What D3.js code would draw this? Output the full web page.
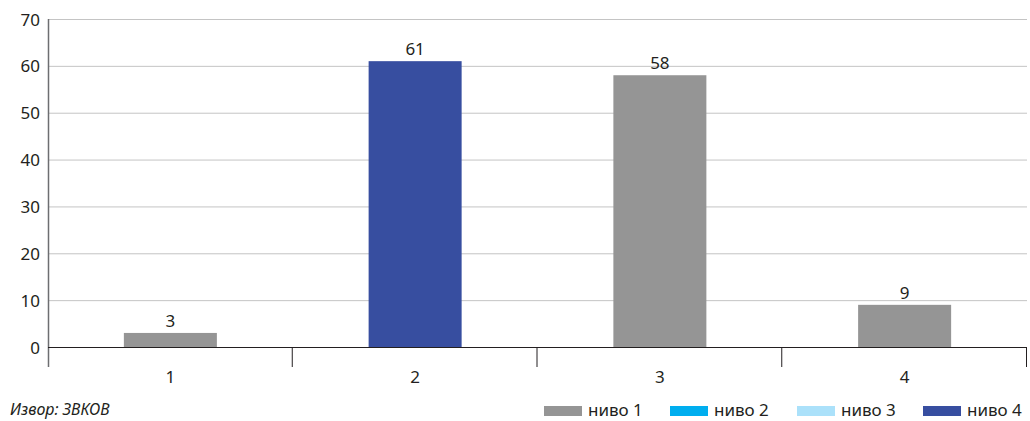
<!DOCTYPE html>
<html><head><meta charset="utf-8">
<script src="https://cdn.jsdelivr.net/npm/d3@7"></script>
<style>body{margin:0;background:#fff}svg{display:block}text{font-family:"Noto Sans",sans-serif;fill:#231f20}</style>
</head><body><svg id="c" width="1030" height="421"></svg>
<script>
const categories = ["1","2","3","4"];
const values = [3,61,58,9];
const barLevel = ["ниво 1","ниво 4","ниво 1","ниво 1"];
const legendNames = ["ниво 1","ниво 2","ниво 3","ниво 4"];
const legendColors = ["#959595","#00aeef","#abe1fa","#374ea0"];
const yTicks = [0,10,20,30,40,50,60,70];
const source = "Извор: ЗВКОВ";

const svg = d3.select("#c");
const m = {l:48, r:1027, t:19, b:347};
const x = d3.scaleBand().domain(categories).range([m.l, m.r]).paddingInner(0).paddingOuter(0);
const y = d3.scaleLinear().domain([0,70]).range([m.b, m.t]);
const color = d3.scaleOrdinal().domain(legendNames).range(legendColors);

// gridlines
svg.append("g").selectAll("line").data(yTicks.filter(d=>d>0)).join("line")
  .attr("x1", m.l).attr("x2", m.r).attr("y1", d=>y(d)+0.5).attr("y2", d=>y(d)+0.5)
  .attr("stroke", "#c4c4c4").attr("stroke-width", 1);

// y axis
const ya = svg.append("g").attr("transform", `translate(${m.l},0)`)
  .call(d3.axisLeft(y).tickValues(yTicks).tickSize(0).tickPadding(8));
ya.select(".domain").remove();
ya.attr("font-size", null).attr("font-family", null);
ya.selectAll("text").attr("font-size", 17).attr("fill", "#231f20").attr("dy","0.36em");
svg.append("line").attr("x1", m.l+0.5).attr("x2", m.l+0.5).attr("y1", m.t).attr("y2", m.b+20)
  .attr("stroke", "#6d6e71").attr("stroke-width", 1.5);

// bars
const bw = x.bandwidth()*0.38;
svg.append("g").selectAll("rect").data(values).join("rect")
  .attr("x", (d,i)=>x(categories[i]) + x.bandwidth()/2 - bw/2)
  .attr("width", bw)
  .attr("y", d=>y(d)).attr("height", d=>y(0)-y(d))
  .attr("fill", (d,i)=>color(barLevel[i]));

// value labels
svg.append("g").selectAll("text").data(values).join("text")
  .attr("x", (d,i)=>x(categories[i]) + x.bandwidth()/2)
  .attr("y", d=>y(d)-6).attr("text-anchor","middle").attr("font-size",17).text(d=>d);

// x axis
svg.append("line").attr("x1", m.l).attr("x2", m.r).attr("y1", m.b+0.5).attr("y2", m.b+0.5)
  .attr("stroke", "#231f20").attr("stroke-width", 1.2);
const boundaries = categories.map(c=>x(c)).concat([m.r]);
svg.append("g").selectAll("line").data(boundaries.slice(1)).join("line")
  .attr("x1", d=>d-0.5).attr("x2", d=>d-0.5).attr("y1", m.b).attr("y2", m.b+20)
  .attr("stroke", "#231f20").attr("stroke-width", 1);
svg.append("g").selectAll("text").data(categories).join("text")
  .attr("x", d=>x(d)+x.bandwidth()/2).attr("y", 383).attr("text-anchor","middle")
  .attr("font-size",17).text(d=>d);

// source
svg.append("text").attr("x", 10).attr("y", 415).attr("font-size", 16).attr("font-style","italic").text(source);

// legend
const lx = [544, 670, 797, 923];
const lg = svg.append("g").selectAll("g").data(legendNames).join("g")
  .attr("transform", (d,i)=>`translate(${lx[i]},406)`);
lg.append("rect").attr("width", 38).attr("height", 10).attr("fill", d=>color(d));
lg.append("text").attr("x", 44).attr("y", 10).attr("font-size", 17).text(d=>d);
</script></body></html>
